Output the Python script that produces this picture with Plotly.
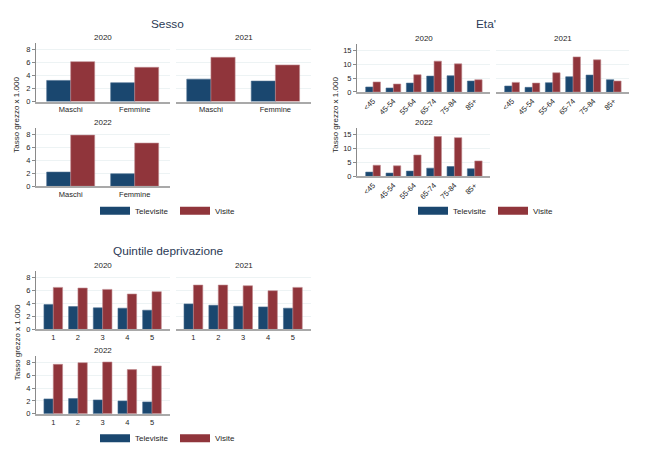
import plotly.graph_objects as go

# ---------------- data ----------------
years = ["2020", "2021", "2022"]

sesso_cats = ["Maschi", "Femmine"]
sesso_tele_2020 = [3.25, 2.90]
sesso_vis_2020 = [6.14, 5.27]
sesso_tele_2021 = [3.45, 3.15]
sesso_vis_2021 = [6.80, 5.63]
sesso_tele_2022 = [2.19, 1.93]
sesso_vis_2022 = [7.90, 6.67]

eta_cats = ["<45", "45-54", "55-64", "65-74", "75-84", "85+"]
eta_tele_2020 = [1.80, 1.43, 3.20, 5.70, 5.83, 3.93]
eta_vis_2020 = [3.60, 2.86, 6.20, 11.07, 10.10, 4.40]
eta_tele_2021 = [2.14, 1.67, 3.33, 5.48, 6.07, 4.40]
eta_vis_2021 = [3.45, 3.20, 6.90, 12.60, 11.55, 3.93]
eta_tele_2022 = [1.53, 1.18, 1.89, 2.95, 3.54, 2.72]
eta_vis_2022 = [4.00, 3.78, 7.67, 14.30, 13.90, 5.55]

quint_cats = ["1", "2", "3", "4", "5"]
quint_tele_2020 = [3.83, 3.52, 3.32, 3.27, 2.96]
quint_vis_2020 = [6.48, 6.38, 6.17, 5.46, 5.82]
quint_tele_2021 = [3.93, 3.72, 3.57, 3.47, 3.27]
quint_vis_2021 = [6.84, 6.84, 6.73, 5.97, 6.48]
quint_tele_2022 = [2.31, 2.36, 2.15, 2.00, 1.85]
quint_vis_2022 = [7.69, 7.95, 8.05, 6.87, 7.44]

series_names = ["Televisite", "Visite"]
y_title = "Tasso grezzo x 1.000"

# ---------------- style ----------------
W, H = 664, 463
NAVY = "#1a476f"
MAROON = "#90353b"
NAVY_EDGE = "#4a6d8e"
MAROON_EDGE = "#c08a8e"
TXT = "#262626"
TITLE = "#2b3a55"
FONT = "Liberation Sans, Arial, sans-serif"


def fx(v):
    return v / W


def fy(v):
    return 1 - v / H


panels = [
    dict(title="Sesso", tx=167.5, ty=24, cats=sesso_cats,
         data=[(sesso_tele_2020, sesso_vis_2020), (sesso_tele_2021, sesso_vis_2021),
               (sesso_tele_2022, sesso_vis_2022)],
         boxes=[(36, 170, 43.5, 102.7), (176, 311, 43.5, 102.7), (36, 170, 129.4, 188.3)],
         yrange=[0, 9], ytick=[0, 2, 4, 6, 8], xrange=[-0.542, 1.552], bw=0.375,
         angle=0, legend="legend", lx=95, ly=213, ytx=17, yty=116),
    dict(title="Eta'", tx=486, ty=24, cats=eta_cats,
         data=[(eta_tele_2020, eta_vis_2020), (eta_tele_2021, eta_vis_2021),
               (eta_tele_2022, eta_vis_2022)],
         boxes=[(357, 490, 44, 93), (496, 629, 44, 93), (357, 490, 129.3, 178.3)],
         yrange=[0, 17.4], ytick=[0, 5, 10, 15], xrange=[-0.79, 5.75], bw=0.362,
         angle=-45, legend="legend2", lx=413, ly=213, ytx=336, yty=116),
    dict(title="Quintile deprivazione", tx=168, ty=254, cats=quint_cats,
         data=[(quint_tele_2020, quint_vis_2020), (quint_tele_2021, quint_vis_2021),
               (quint_tele_2022, quint_vis_2022)],
         boxes=[(36, 170, 274, 333), (176, 311, 274, 333), (36, 170, 359.8, 418.3)],
         yrange=[0, 9], ytick=[0, 2, 4, 6, 8], xrange=[-0.70, 4.73], bw=0.378,
         angle=0, legend="legend3", lx=95, ly=443, ytx=17, yty=346),
]

fig = go.Figure()
layout = dict(
    width=W, height=H, margin=dict(l=0, r=0, t=0, b=0),
    paper_bgcolor="white", plot_bgcolor="white",
    font=dict(family=FONT, color=TXT, size=7.5),
    showlegend=True,
)
annotations = []

n = 0
for p in panels:
    annotations.append(dict(text=p["title"], x=fx(p["tx"]), y=fy(p["ty"]), xref="paper", yref="paper",
                            showarrow=False, xanchor="center", yanchor="middle",
                            font=dict(size=11.8, color=TITLE, family=FONT)))
    annotations.append(dict(text=y_title, x=fx(p["ytx"]), y=fy(p["yty"]), xref="paper", yref="paper",
                            showarrow=False, textangle=-90, xanchor="center", yanchor="middle",
                            font=dict(size=8, color=TXT, family=FONT)))
    for i, (yr, (tele, vis), box) in enumerate(zip(years, p["data"], p["boxes"])):
        n += 1
        sx = "" if n == 1 else str(n)
        x0, x1, ytop, ybot = box
        fig.add_trace(go.Bar(x=p["cats"], y=tele, name=series_names[0], xaxis="x" + sx, yaxis="y" + sx,
                             marker=dict(color=NAVY, line=dict(color=NAVY_EDGE, width=0.6)),
                             width=p["bw"], offset=-p["bw"], showlegend=False, hoverinfo="x+y+name"))
        fig.add_trace(go.Bar(x=p["cats"], y=vis, name=series_names[1], xaxis="x" + sx, yaxis="y" + sx,
                             marker=dict(color=MAROON, line=dict(color=MAROON_EDGE, width=0.6)),
                             width=p["bw"], offset=0, showlegend=False, hoverinfo="x+y+name"))
        left = (i != 1)
        layout["xaxis" + sx] = dict(
            domain=[fx(x0), fx(x1)], anchor="y" + sx, type="category",
            categoryorder="array", categoryarray=p["cats"], range=p["xrange"],
            showline=True, linecolor="#a9a9a9", linewidth=1.6, ticks="",
            showgrid=False, zeroline=False, tickangle=p["angle"],
            tickfont=dict(size=7.5, color=TXT), fixedrange=True)
        layout["yaxis" + sx] = dict(
            domain=[fy(ybot), fy(ytop)], anchor="x" + sx, range=p["yrange"],
            tickvals=p["ytick"], showgrid=True, gridcolor="#edf3f4", gridwidth=1,
            zeroline=False, showline=left, linecolor="#8a8a8a", linewidth=1,
            ticks="outside" if left else "", ticklen=3, tickcolor="#8a8a8a",
            showticklabels=left, tickfont=dict(size=7.5, color=TXT), fixedrange=True)
        cx = (x0 + x1) / 2
        annotations.append(dict(text=yr, x=fx(cx), y=fy(ytop - 5.5), xref="paper", yref="paper",
                                showarrow=False, xanchor="center", yanchor="middle",
                                font=dict(size=8, color=TXT, family=FONT)))
    # legend entries (wide keys as in the original)
    first_ax = "" if n - 2 == 1 else str(n - 2)
    for name, col in zip(series_names, [NAVY, MAROON]):
        fig.add_trace(go.Scatter(x=[None], y=[None], mode="lines", name=name,
                                 line=dict(color=col, width=8),
                                 xaxis="x" + first_ax, yaxis="y" + first_ax,
                                 legend=p["legend"], showlegend=True, hoverinfo="skip"))
    layout[p["legend"]] = dict(
        x=fx(p["lx"]), y=fy(p["ly"]), xanchor="left", yanchor="middle",
        orientation="h", entrywidth=35, entrywidthmode="pixels", itemwidth=30,
        bgcolor="rgba(0,0,0,0)", borderwidth=0, tracegroupgap=0,
        font=dict(size=8, color=TXT, family=FONT), itemclick=False, itemdoubleclick=False)

layout["annotations"] = annotations
fig.update_layout(**layout)
fig.write_html("out.html", config={"displayModeBar": False},
               post_script="document.body.style.margin='0';document.body.style.padding='0';")
